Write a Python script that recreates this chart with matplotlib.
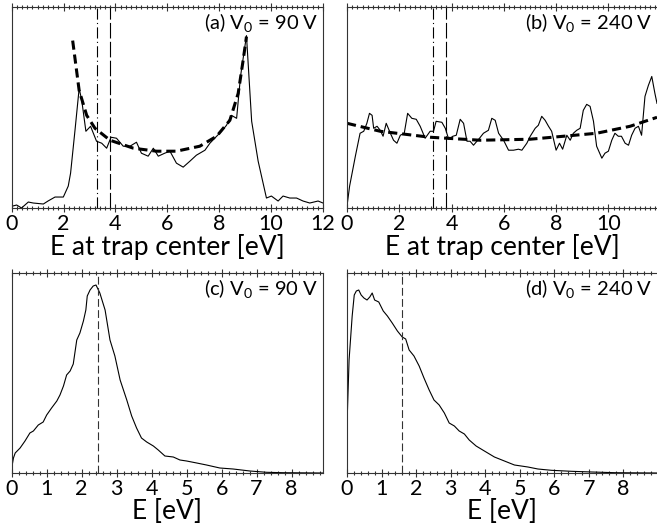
import matplotlib
matplotlib.use('Agg')
import matplotlib.pyplot as plt
from matplotlib.ticker import MultipleLocator, NullLocator

plt.rcParams['font.family'] = ['Lato', 'DejaVu Sans']
plt.rcParams['mathtext.fontset'] = 'custom'
plt.rcParams['mathtext.rm'] = 'Lato'

# (a) distribution at trap center, V0 = 90 V
ea = [0, 0.19, 0.38, 0.64, 0.83, 1.22, 1.4, 1.67, 1.99, 2.18, 2.27, 2.44, 2.6, 2.7,
      2.86, 3.04, 3.27, 3.47, 3.66, 3.83, 4.04, 4.3, 4.56, 4.81, 5.0, 5.26, 5.46,
      5.65, 5.9, 6.1, 6.35, 6.61, 6.87, 7.12, 7.45, 7.64, 7.9, 8.09, 8.28, 8.47,
      8.67, 8.82, 9.05, 9.25, 9.5, 9.82, 10.01, 10.27, 10.46, 10.72, 10.98, 11.23,
      11.49, 11.81, 12.0]
fa = [1.7, 3, 0, 6, 5, 4, 7, 11, 11, 22, 35, 78, 120, 108,
      77, 82, 67, 65, 60, 71, 70, 62, 62, 66, 55, 52, 60,
      52, 55, 57, 45, 41, 47, 53, 58, 65, 72, 77, 83, 93,
      90, 132, 173, 87, 47, 10, 12, 7, 12, 10, 10, 7,
      5, 7, 5]
ea_fit = [2.35, 2.6, 2.89, 3.21, 3.79, 4.69, 5.58, 6.35, 7.25, 7.9, 8.41, 8.73, 8.92, 9.05]
fa_fit = [168, 118, 93, 80, 68, 60, 57, 57, 62, 72, 88, 115, 148, 172]

# (b) distribution at trap center, V0 = 240 V
eb = [0, 0.1, 0.32, 0.5, 0.64, 0.76, 0.86, 0.96, 1.02, 1.15, 1.27, 1.38, 1.5, 1.66,
      1.78, 1.91, 2.04, 2.19, 2.32, 2.48, 2.65, 2.8, 2.99, 3.18, 3.31, 3.41, 3.63,
      3.76, 3.89, 4.05, 4.18, 4.33, 4.46, 4.59, 4.71, 4.84, 4.97, 5.07, 5.22, 5.41,
      5.54, 5.67, 5.8, 5.99, 6.18, 6.37, 6.56, 6.69, 6.88, 7.01, 7.2, 7.32, 7.45,
      7.58, 7.71, 7.83, 8.0, 8.13, 8.25, 8.41, 8.54, 8.66, 8.79, 8.92, 9.04, 9.17,
      9.3, 9.43, 9.55, 9.75, 9.87, 10.0, 10.13, 10.25, 10.38, 10.5, 10.64, 10.77,
      10.89, 11.02, 11.15, 11.27, 11.4, 11.53, 11.66, 11.78, 11.86]
fb = [2, 22, 52, 75, 77, 85, 95, 93, 80, 82, 78, 72, 85, 75,
      68, 65, 73, 75, 95, 90, 89, 82, 70, 77, 77, 87, 86,
      80, 69, 72, 73, 89, 85, 67, 67, 63, 67, 70, 75, 78,
      90, 88, 75, 68, 58, 58, 59, 58, 65, 72, 80, 83, 92,
      88, 82, 77, 58, 65, 59, 73, 68, 75, 78, 80, 98, 104,
      102, 87, 62, 50, 55, 57, 68, 75, 72, 72, 65, 63,
      73, 80, 82, 73, 112, 123, 132, 115, 105]
eb_fit = [0, 1.27, 3.18, 5.1, 7.0, 8.28, 9.55, 10.83, 11.86]
fb_fit = [85, 77, 71, 68, 69, 72, 75, 82, 91]

# (c) energy distribution, V0 = 90 V
ec = [0, 0.05, 0.1, 0.24, 0.38, 0.52, 0.62, 0.76, 0.9, 1.0, 1.14, 1.29, 1.38, 1.48,
      1.57, 1.67, 1.76, 1.86, 1.95, 2.05, 2.12, 2.16, 2.24, 2.33, 2.41, 2.52, 2.67,
      2.81, 2.95, 3.1, 3.29, 3.43, 3.57, 3.71, 3.86, 4.05, 4.19, 4.38, 4.62, 4.81,
      5.0, 5.29, 5.57, 5.95, 6.33, 6.81, 7.29, 7.76, 8.9]
fc = [5, 15, 20, 25, 32, 40, 42, 48, 51, 58, 65, 72, 78, 87,
      98, 102, 109, 133, 140, 152, 163, 177, 183, 187, 188, 180, 163,
      133, 117, 93, 73, 57, 45, 35, 31, 27, 23, 17, 16, 13,
      12, 10, 8, 5, 4, 2, 0.7, 0.3, 0]

# (d) energy distribution, V0 = 240 V
ed = [0, 0.06, 0.15, 0.21, 0.27, 0.34, 0.41, 0.49, 0.58, 0.66, 0.73, 0.8, 0.92, 1.05,
      1.17, 1.31, 1.46, 1.6, 1.7, 1.8, 1.94, 2.09, 2.23, 2.38, 2.52, 2.67, 2.82,
      2.96, 3.11, 3.25, 3.4, 3.54, 3.74, 3.98, 4.27, 4.56, 4.85, 5.24, 5.53, 5.92,
      6.5, 7.09, 7.77, 8.98]
fd = [48, 113, 157, 178, 182, 183, 178, 175, 173, 176, 180, 173, 171, 162,
      157, 150, 142, 136, 134, 123, 117, 107, 95, 83, 73, 68, 60,
      50, 47, 42, 39, 33, 27, 22, 16, 12, 8, 6, 4, 2.7,
      1.7, 1, 0.3, 0]

# reference energies [eV]
e_mark_dashdot = 3.3
e_mark_dash = 3.8
e_mean_c = 2.46
e_mean_d = 1.58

labels = [r'(a) V$_\mathregular{0}$ = 90 V', r'(b) V$_\mathregular{0}$ = 240 V',
          r'(c) V$_\mathregular{0}$ = 90 V', r'(d) V$_\mathregular{0}$ = 240 V']

fig = plt.figure(figsize=(6.57, 5.30), dpi=100)
W, H = 657.0, 530.0


def make_axes(x0, x1, y0, y1):
    return fig.add_axes([x0 / W, 1 - y1 / H, (x1 - x0) / W, (y1 - y0) / H])


ax_a = make_axes(11.7, 323, 7, 208)
ax_b = make_axes(347, 657, 7, 208)
ax_c = make_axes(11.7, 323, 273, 473)
ax_d = make_axes(347, 657, 273, 473)


def style(ax, xmax, major, ymax):
    ax.set_xlim(0, xmax)
    ax.set_ylim(0, ymax)
    ax.xaxis.set_major_locator(MultipleLocator(major))
    ax.xaxis.set_minor_locator(MultipleLocator(0.2))
    ax.yaxis.set_major_locator(NullLocator())
    ax.tick_params(axis='x', which='both', direction='inout', top=True,
                   color='#333333', width=0.8, labelsize=15.5, pad=1)
    ax.tick_params(axis='x', which='major', length=6)
    ax.tick_params(axis='x', which='minor', length=3.5)
    for s in ax.spines.values():
        s.set_linewidth(0.8)
        s.set_color('#333333')


style(ax_a, 12, 2, 201.7)
style(ax_b, 11.86, 2, 201.7)
style(ax_c, 8.9, 1, 200)
style(ax_d, 8.98, 1, 200)
ax_b.spines['right'].set_visible(False)
ax_d.spines['right'].set_visible(False)

# top row: trap-center distributions with fits
ax_a.plot(ea, fa, color='black', lw=0.8)
ax_a.plot(ea_fit, fa_fit, color='black', lw=2.2, ls=(0, (3, 1.6)))
ax_b.plot(eb, fb, color='black', lw=0.8)
ax_b.plot(eb_fit, fb_fit, color='black', lw=2.2, ls=(0, (3, 1.6)))
for ax in (ax_a, ax_b):
    ax.axvline(e_mark_dashdot, color='black', lw=0.8, ls=(0, (10, 3, 1, 3)))
    ax.axvline(e_mark_dash, color='black', lw=0.8, ls=(0, (14, 3)))
    ax.set_xlabel('E at trap center [eV]', fontsize=19, labelpad=0)

# bottom row: energy distributions
ax_c.plot(ec, fc, color='black', lw=0.8)
ax_c.axvline(e_mean_c, color='#333333', lw=0.8, ls=(0, (7, 3)))
ax_d.plot(ed, fd, color='black', lw=0.8)
ax_d.axvline(e_mean_d, color='#333333', lw=0.8, ls=(0, (7, 3)))
for ax in (ax_c, ax_d):
    ax.set_xlabel('E [eV]', fontsize=19, labelpad=0)

for ax, lab in zip((ax_a, ax_b, ax_c, ax_d), labels):
    ax.text(0.985, 0.975, lab, transform=ax.transAxes, ha='right', va='top',
            fontsize=14.5)

fig.savefig('out.png', dpi=100)
